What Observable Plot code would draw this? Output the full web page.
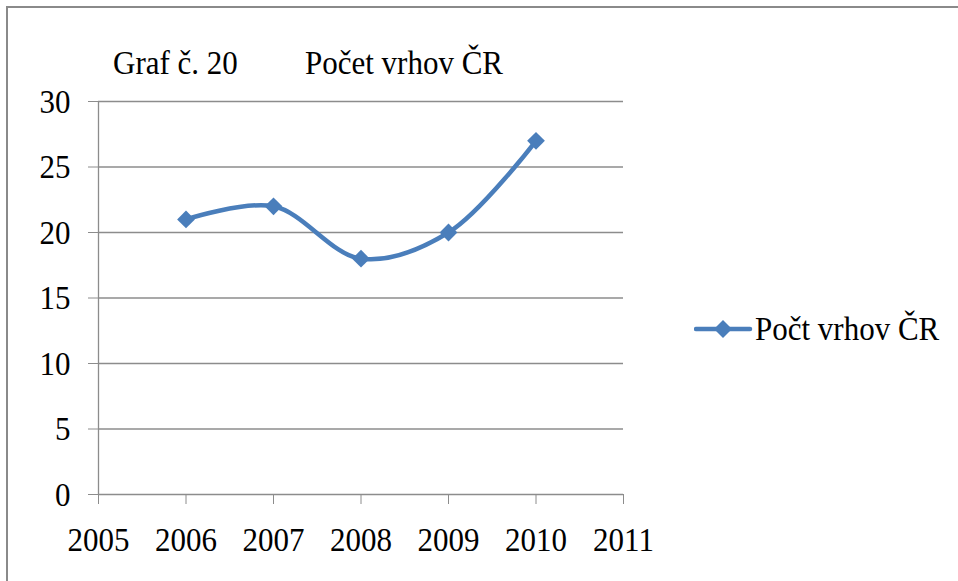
<!DOCTYPE html>
<html><head><meta charset="utf-8">
<script src="https://cdn.jsdelivr.net/npm/d3@7"></script>
<script src="https://cdn.jsdelivr.net/npm/@observablehq/plot@0.6"></script>
<style>
body{margin:0;background:#fff;}
#wrap{position:relative;width:958px;height:581px;overflow:hidden;font-family:"Liberation Serif","Times New Roman",serif;color:#000;}
#frame{position:absolute;left:6px;top:6px;width:980px;height:620px;border-top:2px solid #8a8a8a;border-left:2px solid #8a8a8a;box-sizing:border-box;}
.t{position:absolute;font-size:31px;line-height:31px;white-space:nowrap;transform:scaleY(1.12);transform-origin:0 26px;}
#chart{position:absolute;left:0;top:0;}
#legsw{position:absolute;left:694px;top:318px;}
</style></head>
<body>
<div id="wrap">
  <div id="frame"></div>
  <div id="chart"></div>
  <div class="t" style="left:113px;top:48px;">Graf č. 20</div>
  <div class="t" style="left:305px;top:48px;">Počet vrhov ČR</div>
  <svg id="legsw" width="60" height="22"><line x1="2" x2="56" y1="11" y2="11" stroke="#4A7EBB" stroke-width="4.5" stroke-linecap="round"/><path d="M29 2 L38 11 L29 20 L20 11Z" fill="#4A7EBB"/></svg>
  <div class="t" id="legtxt" style="left:755px;top:314px;">Počt vrhov ČR</div>
</div>
<script>
const years = [2006, 2007, 2008, 2009, 2010];
const values = [21, 22, 18, 20, 27];
const xTicks = [2005, 2006, 2007, 2008, 2009, 2010, 2011];
const yTicks = [0, 5, 10, 15, 20, 25, 30];
const seriesName = "Počt vrhov ČR";

const data = years.map((y, i) => ({year: y, value: values[i]}));
const blue = "#4A7EBB";
const grey = "#8c8c8c";

const svg = Plot.plot({
  width: 958,
  height: 581,
  marginLeft: 98,
  marginRight: 335,
  marginTop: 101,
  marginBottom: 87,
  style: {fontFamily: '"Liberation Serif","Times New Roman",serif', background: "transparent", color: "#000"},
  x: {type: "linear", domain: [2005, 2011]},
  y: {domain: [0, 30]},
  marks: [
    Plot.ruleY(yTicks, {stroke: grey, strokeWidth: 1.3}),
    Plot.ruleX([2005], {stroke: grey, strokeWidth: 1.3}),
    Plot.axisY({ticks: yTicks, tickSize: 10, tickPadding: 18, fontSize: 31, stroke: grey, fill: "#000", label: null, tickFormat: d => String(d)}),
    Plot.axisX({ticks: xTicks, tickSize: 10, tickPadding: 22, fontSize: 31, stroke: grey, fill: "#000", label: null, tickFormat: d => String(d)}),
    Plot.line(data, {x: "year", y: "value", stroke: blue, strokeWidth: 4.5, curve: "catmull-rom"}),
    Plot.dot(data, {x: "year", y: "value", symbol: "diamond2", r: 8, fill: blue, stroke: "none"})
  ]
});
// slight vertical stretch of the tick labels, as in the reference
svg.querySelectorAll("text").forEach(t => {
  const tr = t.getAttribute("transform");
  if (tr) t.setAttribute("transform", tr + " scale(1,1.12)");
});
document.getElementById("chart").appendChild(svg);
</script>
</body></html>
